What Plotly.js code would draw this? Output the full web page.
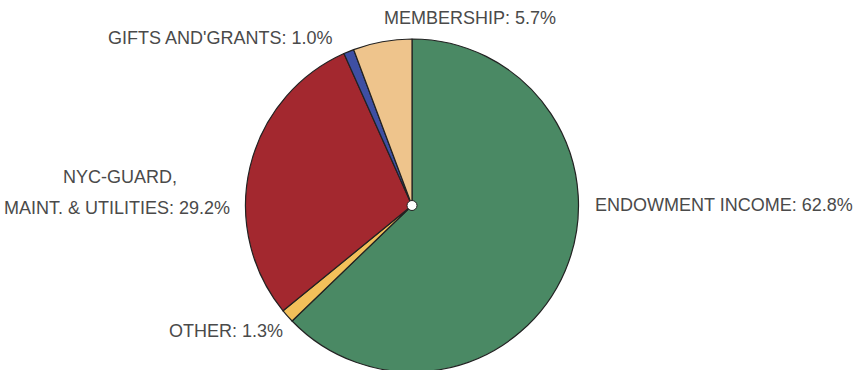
<!DOCTYPE html>
<html>
<head>
<meta charset="utf-8">
<script src="https://cdn.plot.ly/plotly-3.0.1.min.js"></script>
<style>
html,body{margin:0;padding:0;overflow:hidden;background:#fff;width:856px;height:370px;}
#chart{width:856px;height:372px;}
</style>
</head>
<body>
<div id="chart"></div>
<script>
const categories = ["ENDOWMENT INCOME", "OTHER", "NYC-GUARD, MAINT. & UTILITIES", "GIFTS AND'GRANTS", "MEMBERSHIP"];
const values = [62.8, 1.3, 29.2, 1.0, 5.7];
const labelLines = [["ENDOWMENT INCOME: 62.8%"], ["OTHER: 1.3%"], ["NYC-GUARD,", "MAINT. & UTILITIES: 29.2%"], ["GIFTS AND'GRANTS: 1.0%"], ["MEMBERSHIP: 5.7%"]];
const colors = ["#4a8964", "#f3c05a", "#a3282f", "#3e4fa3", "#eec48c"];

const W = 856, H = 372;
// label anchor positions (px): x, y of each line
const labelPos = [
  [{x: 593, y: 205, anchor: 'left'}],
  [{x: 285, y: 331, anchor: 'right'}],
  [{x: 120, y: 177, anchor: 'center'}, {x: 232, y: 208, anchor: 'right'}],
  [{x: 334, y: 38, anchor: 'right'}],
  [{x: 558, y: 18, anchor: 'right'}]
];

const trace = {
  type: 'pie',
  labels: categories,
  values: values,
  sort: false,
  direction: 'clockwise',
  rotation: 0,
  textinfo: 'none',
  hoverinfo: 'label+percent',
  marker: {colors: colors, line: {color: '#222', width: 1.2}},
  domain: {x: [(412 - 170) / W, (412 + 170) / W], y: [0, 333 / H]},
  showlegend: false
};

const annotations = [];
labelLines.forEach((lines, i) => {
  lines.forEach((t, j) => {
    const p = labelPos[i][j];
    annotations.push({
      text: t,
      xref: 'paper', yref: 'paper',
      x: p.x / W, y: 1 - p.y / H,
      xanchor: p.anchor, yanchor: 'middle',
      showarrow: false,
      font: {family: 'Liberation Sans, Arial, sans-serif', size: 18, color: '#4a4a4a'}
    });
  });
});

const cx = 412 / W, cy = 1 - 205.5 / H;
const layout = {
  width: W, height: H,
  margin: {l: 0, r: 0, t: 0, b: 0},
  paper_bgcolor: '#fff',
  annotations: annotations,
  shapes: [{
    type: 'circle', xref: 'paper', yref: 'paper',
    x0: cx - 5 / W, x1: cx + 5 / W, y0: cy - 5 / H, y1: cy + 5 / H,
    fillcolor: '#fff', line: {color: '#222', width: 1}
  }]
};

Plotly.newPlot('chart', [trace], layout, {displayModeBar: false, staticPlot: true});
</script>
</body>
</html>
